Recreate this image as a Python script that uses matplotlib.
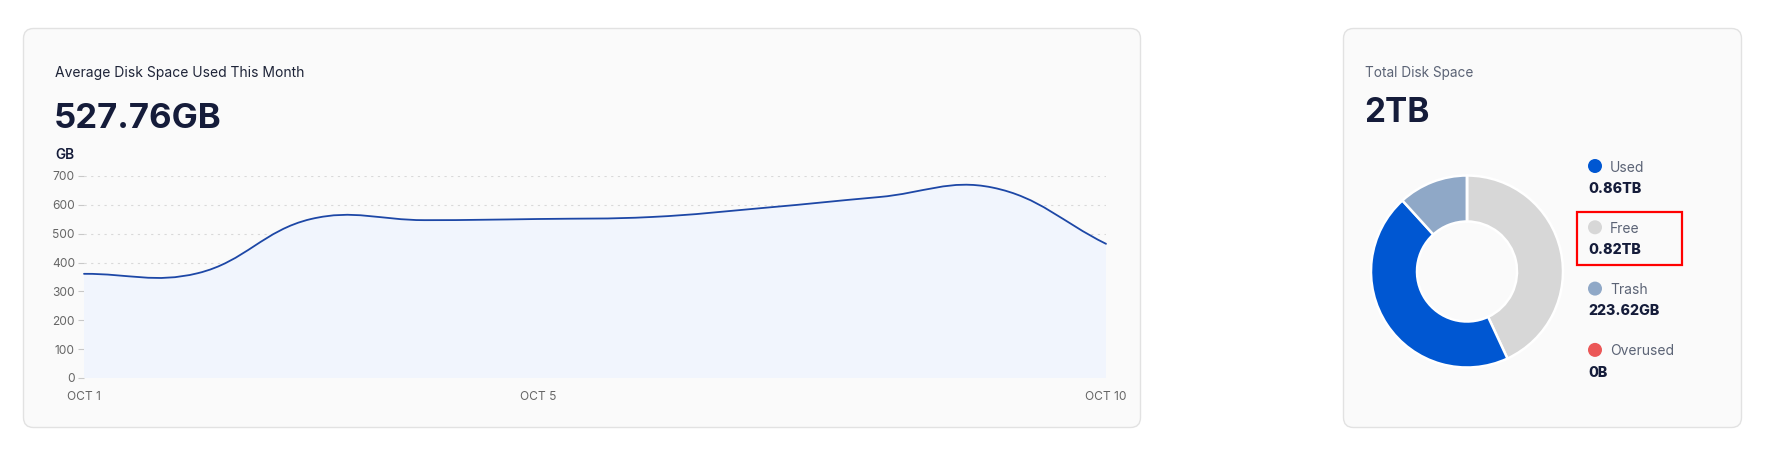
import numpy as np
import matplotlib
matplotlib.use("Agg")
import matplotlib.pyplot as plt
from matplotlib.patches import FancyBboxPatch, Rectangle, PathPatch, Circle
from matplotlib.path import Path

plt.rcParams['font.family'] = ['Inter', 'DejaVu Sans']

# ---------------- data ----------------
days = ["OCT 1", "OCT 2", "OCT 3", "OCT 4", "OCT 5",
        "OCT 6", "OCT 7", "OCT 8", "OCT 9", "OCT 10"]
usage_gb = [361, 363, 551, 547, 551, 558, 590, 627, 660, 465]
shown_days = ["OCT 1", "OCT 5", "OCT 10"]
y_ticks = [0, 100, 200, 300, 400, 500, 600, 700]

left_title = "Average Disk Space Used This Month"
avg_label = "527.76GB"
unit_label = "GB"

right_title = "Total Disk Space"
total_label = "2TB"
legend_names = ["Used", "Free", "Trash", "Overused"]
legend_values = ["0.86TB", "0.82TB", "223.62GB", "0B"]
legend_gb = [860, 820, 223.62, 0]
legend_colors = ["#0057d2", "#d7d7d7", "#8fa8c7", "#eb5757"]
donut_order = ["Free", "Used", "Trash", "Overused"]
highlight = "Free"

# ---------------- figure ----------------
W, H = 1776, 457
fig = plt.figure(figsize=(W / 100, H / 100), dpi=100)
fig.patch.set_facecolor("white")
bg = fig.add_axes([0, 0, 1, 1])
bg.set_xlim(0, W)
bg.set_ylim(H, 0)
bg.axis("off")

for (x0, x1) in [(23.5, 1140.5), (1343.5, 1741.5)]:
    bg.add_patch(FancyBboxPatch((x0, 28.5), x1 - x0, 399,
                                boxstyle="round,pad=0,rounding_size=10",
                                fc="#fafafa", ec="#e2e2e2", lw=1.0))

dark = "#151c3a"
grey_txt = "#5b6375"

bg.text(55, 77.5, left_title, fontsize=10, color="#1e2438", va="baseline", ha="left")
bg.text(54, 128, avg_label, fontsize=25, fontweight="bold", color=dark, va="baseline", ha="left")
bg.text(55, 159, unit_label, fontsize=9.8, fontweight="semibold", color=dark, va="baseline", ha="left")

bg.text(1365, 77.5, right_title, fontsize=9.8, color=grey_txt, va="baseline", ha="left")
bg.text(1364, 121.7, total_label, fontsize=24, fontweight="bold", color=dark, va="baseline", ha="left")

# ---------------- line chart ----------------
px_l, px_r, px_t, px_b = 84, 1106, 176, 378
ax = fig.add_axes([px_l / W, 1 - px_b / H, (px_r - px_l) / W, (px_b - px_t) / H])
ax.patch.set_alpha(0)
n = len(usage_gb)
xs = np.arange(n, dtype=float)
ys = np.array(usage_gb, dtype=float)
ax.set_xlim(0, n - 1)
ax.set_ylim(y_ticks[0], y_ticks[-1])

# bezier control points (tension-based smoothing, computed in pixel space)
sx = (px_r - px_l) / (n - 1)
sy = (px_b - px_t) / (y_ticks[-1] - y_ticks[0])
P = np.column_stack([xs * sx, ys * sy])
t = 0.4
cp_prev = np.zeros_like(P)
cp_next = np.zeros_like(P)
for i in range(n):
    prv = P[i - 1] if i > 0 else P[i]
    cur = P[i]
    nxt = P[i + 1] if i < n - 1 else P[i]
    d01 = np.hypot(*(cur - prv))
    d12 = np.hypot(*(nxt - cur))
    tot = d01 + d12
    s01 = d01 / tot if tot else 0
    s12 = d12 / tot if tot else 0
    cp_prev[i] = cur - t * s01 * (nxt - prv)
    cp_next[i] = cur + t * s12 * (nxt - prv)

def to_data(p):
    return (p[0] / sx, p[1] / sy)

verts = [to_data(P[0])]
codes = [Path.MOVETO]
for i in range(n - 1):
    verts += [to_data(cp_next[i]), to_data(cp_prev[i + 1]), to_data(P[i + 1])]
    codes += [Path.CURVE4] * 3

fill_verts = verts + [(xs[-1], 0), (xs[0], 0), (xs[0], ys[0])]
fill_codes = codes + [Path.LINETO, Path.LINETO, Path.CLOSEPOLY]
ax.add_patch(PathPatch(Path(fill_verts, fill_codes), fc="#f1f5fd", ec="none", zorder=2))
ax.add_patch(PathPatch(Path(verts, codes), fc="none", ec="#1d47a6", lw=1.3,
                       zorder=3, clip_on=False, capstyle="round"))

ax.set_yticks(y_ticks)
ax.set_yticklabels([str(v) for v in y_ticks])
ax.set_xticks([days.index(d) for d in shown_days])
ax.set_xticklabels(shown_days)
ax.grid(axis="y", linestyle=(0, (2, 4)), color="#d9d9d9", lw=0.8, zorder=1)
ax.get_ygridlines()[0].set_visible(False)
ax.set_axisbelow(True)
for s in ax.spines.values():
    s.set_visible(False)
ax.tick_params(axis="y", length=4.3, width=0.8, color="#c8c8c8", labelcolor="#666666",
               labelsize=8.6, pad=2.2)
ax.tick_params(axis="x", length=0, labelcolor="#666666", labelsize=8.6, pad=9.5)

# ---------------- donut ----------------
cx, cy, R, Rin = 1467, 271.5, 96, 50
half = 100
pa = fig.add_axes([(cx - half) / W, 1 - (cy + half) / H, 2 * half / W, 2 * half / H])
vals = [legend_gb[legend_names.index(k)] for k in donut_order]
cols = [legend_colors[legend_names.index(k)] for k in donut_order]
pa.pie(vals, colors=cols, startangle=90, counterclock=False, radius=R / half,
       wedgeprops=dict(width=(R - Rin) / half, edgecolor="white", linewidth=1.8))
pa.set_xlim(-1, 1)
pa.set_ylim(-1, 1)
pa.set_aspect("equal")
pa.axis("off")

# ---------------- legend ----------------
dot_x, lab_x, val_x = 1595, 1610, 1588
y0, step = 166, 61.3
for i, (nm, vv, col) in enumerate(zip(legend_names, legend_values, legend_colors)):
    yc = y0 + i * step
    bg.add_patch(Circle((dot_x, yc), 7, fc=col, ec="none"))
    bg.text(lab_x, yc + 5.5, nm, fontsize=10, color=grey_txt, va="baseline", ha="left")
    bg.text(val_x, yc + 26.7, vv, fontsize=10.3, fontweight="heavy", color=dark,
            va="baseline", ha="left")
    if nm == highlight:
        bg.add_patch(Rectangle((1577, yc - 15), 105, 53, fill=False, ec="#ff0000", lw=1.6))

fig.savefig("out.png", dpi=100, facecolor="white")
